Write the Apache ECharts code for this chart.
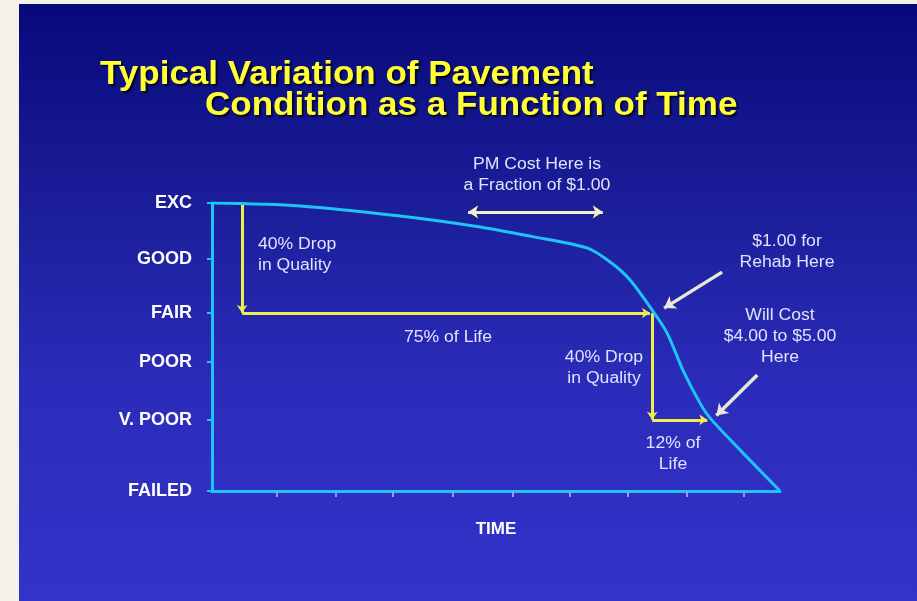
<!DOCTYPE html>
<html lang="en">
<head>
  <meta charset="UTF-8">
  <title>Pavement Condition vs Time</title>
  <script src="https://cdn.jsdelivr.net/npm/echarts@6/dist/echarts.min.js"></script>
  <style>
    html, body { margin: 0; padding: 0; background: #f4f1e8; }
    #chart { width: 917px; height: 601px; }
  </style>
</head>
<body>
<div id="chart"></div>
<script>
  // pavement condition curve (time in % of the axis, condition 0 = failed, 100 = excellent)
  const timeVals = [0, 15.5, 33.1, 47.2, 56.0, 66.0, 70.1, 73.6, 77.1, 80.1, 82.9, 85.9, 87.7, 93.0, 100];
  const conditionVals = [100, 99.0, 95.5, 91.7, 88.5, 84.4, 79.5, 73.3, 63.9, 54.9, 42.0, 30.6, 25.3, 14.2, 0];

  // condition levels on the y axis
  const levelNames = ['FAILED', 'V. POOR', 'POOR', 'FAIR', 'GOOD', 'EXC'];
  const levelVals = [0, 24.7, 44.8, 61.8, 80.6, 100];

  // unlabelled time ticks
  const timeTicks = [11.4, 21.8, 31.9, 42.3, 53.0, 63.0, 73.2, 83.5, 93.7];

  // yellow arrows: [from, to]
  const yellowArrows = [
    [[5.3, 99.7], [5.3, 61.8]],
    [[5.3, 61.8], [77.1, 61.8]],
    [[77.5, 61.8], [77.5, 24.7]],
    [[77.5, 24.7], [87.2, 24.7]]
  ];
  // pointer arrows
  const whiteArrows = [
    [[89.8, 76.0], [79.6, 63.5]],
    [[96.0, 40.3], [88.8, 26.2]]
  ];
  const pmRange = [[45.1, 96.9], [68.8, 96.9]];

  const cyan = '#1fc4f6';
  const textColor = '#e2e2ff';
  const font = '"Liberation Sans", Arial, sans-serif';

  const chart = echarts.init(document.getElementById('chart'));

  function note(text, x, y, align) {
    return {
      type: 'text', x: x, y: y, z: 50, scaleX: 1.1,
      style: {
        text: text, fill: textColor, font: '16px ' + font,
        align: align || 'center', verticalAlign: 'middle', lineHeight: 21
      }
    };
  }

  const titleStyle = {
    fill: '#ffff33', font: 'bold 34px ' + font, verticalAlign: 'middle',
    textShadowColor: 'rgba(0,0,20,0.85)', textShadowBlur: 2, textShadowOffsetX: 2, textShadowOffsetY: 2
  };

  const option = {
    backgroundColor: '#f4f1e8',
    animation: false,
    grid: { left: 212, top: 203, width: 568, height: 288 },
    xAxis: {
      type: 'value', min: 0, max: 100,
      name: 'TIME', nameLocation: 'middle', nameGap: 30,
      nameTextStyle: { color: '#ffffff', fontWeight: 'bold', fontSize: 17, fontFamily: font },
      axisLine: { lineStyle: { color: cyan, width: 3 } },
      axisTick: { customValues: timeTicks, length: 6, lineStyle: { color: '#8f9cf2', width: 2 } },
      axisLabel: { show: false },
      splitLine: { show: false }
    },
    yAxis: {
      type: 'value', min: 0, max: 100,
      axisLine: { show: true, lineStyle: { color: cyan, width: 3 } },
      axisTick: { show: true, customValues: levelVals, length: 5, lineStyle: { color: cyan, width: 2 } },
      axisLabel: {
        customValues: levelVals, margin: 20,
        color: '#ffffff', fontWeight: 'bold', fontSize: 18, fontFamily: font,
        formatter: function (v) {
          const i = levelVals.indexOf(v);
          return i >= 0 ? levelNames[i] : '';
        }
      },
      splitLine: { show: false }
    },
    graphic: [
      {
        type: 'rect', z: -10, silent: true,
        shape: { x: 19, y: 4, width: 898, height: 597 },
        style: {
          fill: new echarts.graphic.LinearGradient(0, 0, 0, 1, [
            { offset: 0, color: '#07097a' },
            { offset: 0.35, color: '#1c1f9a' },
            { offset: 0.65, color: '#2b2cbb' },
            { offset: 1, color: '#3333c9' }
          ])
        }
      },
      { type: 'text', x: 100, y: 75, z: 50, scaleX: 1.03, style: Object.assign({ text: 'Typical Variation of Pavement' }, titleStyle) },
      { type: 'text', x: 205, y: 106, z: 50, scaleX: 1.03, style: Object.assign({ text: 'Condition as a Function of Time' }, titleStyle) },
      note('PM Cost Here is\na Fraction of $1.00', 537, 175),
      note('40% Drop\nin Quality', 258, 255, 'left'),
      note('75% of Life', 448, 338),
      note('40% Drop\nin Quality', 604, 368),
      note('12% of\nLife', 673, 454),
      note('$1.00 for\nRehab Here', 787, 252),
      note('Will Cost\n$4.00 to $5.00\nHere', 780, 337)
    ],
    series: [
      {
        type: 'line',
        data: timeVals.map(function (t, i) { return [t, conditionVals[i]]; }),
        smooth: 0.3,
        showSymbol: false,
        lineStyle: { color: cyan, width: 3 },
        z: 5
      },
      {
        type: 'lines', coordinateSystem: 'cartesian2d',
        symbol: ['none', 'arrow'], symbolSize: 8,
        lineStyle: { color: '#eeee4a', width: 3, opacity: 1 },
        data: yellowArrows.map(function (c) { return { coords: c }; }),
        z: 4
      },
      {
        type: 'lines', coordinateSystem: 'cartesian2d',
        symbol: ['none', 'arrow'], symbolSize: 11,
        lineStyle: { color: '#e8e8d8', width: 3.5, opacity: 1 },
        data: whiteArrows.map(function (c) { return { coords: c }; }),
        z: 6
      },
      {
        type: 'lines', coordinateSystem: 'cartesian2d',
        symbol: ['arrow', 'arrow'], symbolSize: 10,
        lineStyle: { color: '#f0f0c8', width: 3, opacity: 1 },
        data: [{ coords: pmRange }],
        z: 6
      }
    ]
  };
  chart.setOption(option);
</script>
</body>
</html>
